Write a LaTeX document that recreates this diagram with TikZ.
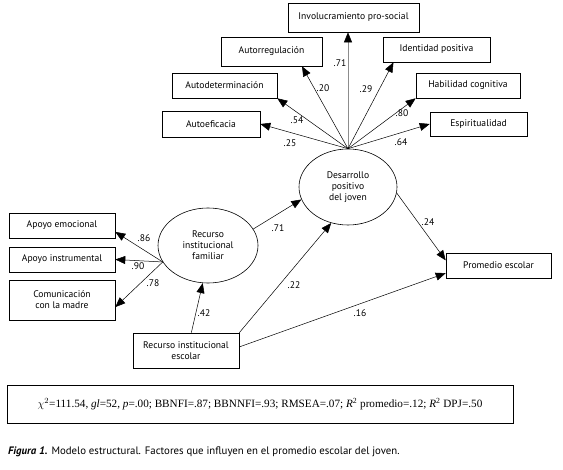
\documentclass[tikz,border=0pt]{standalone}
\usepackage{fontspec}
\setsansfont{PT Sans}
\newfontfamily\statfont{Liberation Serif}
\usetikzlibrary{arrows.meta,calc,shapes.geometric}
\tikzset{
  every node/.style={font=\sffamily\fontsize{9.6}{11}\selectfont},
  box/.style={draw, line width=0.6pt, align=center, inner sep=1pt},
  latent/.style={draw, ellipse, line width=0.6pt, align=center, inner sep=0pt},
  path/.style={line width=0.5pt, -{Triangle[length=10pt,width=8pt,color=black]}},
  lab/.style={inner sep=0pt},
}
\begin{document}
\begin{tikzpicture}[x=1pt,y=-1pt]
\useasboundingbox (0,0) rectangle (563,470);
% indicator boxes (top)
\node[box, minimum width=131, minimum height=29] (inv) at (353.5,17.5) {Involucramiento pro-social};
\node[box, minimum width=101, minimum height=29] (autorreg) at (271.5,51.5) {Autorregulación};
\node[box, minimum width=107, minimum height=25] (ident) at (436.5,49.5) {Identidad positiva};
\node[box, minimum width=105, minimum height=25] (autodet) at (224.5,85.5) {Autodeterminación};
\node[box, minimum width=104, minimum height=25] (habil) at (468,85.5) {Habilidad cognitiva};
\node[box, minimum width=98, minimum height=26] (autoef) at (211,124) {Autoeficacia};
\node[box, minimum width=97, minimum height=24] (espir) at (478.5,124) {Espiritualidad};
% left boxes
\node[box, minimum width=106, minimum height=25] (apoyoemo) at (62,225.5) {Apoyo emocional};
\node[box, minimum width=106, minimum height=25] (apoyoinst) at (62,259.5) {Apoyo instrumental};
\node[box, minimum width=106, minimum height=40] (comun) at (62,300) {Comunicación\\con la madre};
\node[box, minimum width=106, minimum height=35] (rie) at (186,350.5) {Recurso institucional\\escolar};
\node[box, minimum width=105, minimum height=25] (prom) at (498.5,265.5) {Promedio escolar};
% latent variables
\node[latent, minimum width=98, minimum height=76] (dpj) at (348,187) {Desarrollo\\positivo\\del joven};
\node[latent, minimum width=100, minimum height=75] (rif) at (208,245.5) {Recurso\\institucional\\familiar};
% DPJ indicators
\draw[path] (dpj.north) -- (autoef.east);
\draw[path] (dpj.north) -- (autodet.south east);
\draw[path] (dpj.north) -- ($(autorreg.south west)!0.8!(autorreg.south east)$);
\draw[path, draw=black!45] (dpj.north) -- (dpj.north |- inv.south);
\draw[path] (dpj.north) -- ($(ident.south west)!0.1!(ident.south east)$);
\draw[path] (dpj.north) -- (habil.south west);
\draw[path] (dpj.north) -- (espir.west);
\node[lab] (l25) at (290,143) {.25};
\node[lab] (l54) at (297,120) {.54};
\node[lab] (l20) at (323,88) {.20};
\node[lab] (l71a) at (340,63) {.71};
\node[lab] (l29) at (366,89) {.29};
\node[lab] (l80) at (402,113) {.80};
\node[lab] (l64) at (401,142) {.64};
% RIF indicators
\draw[path] (rif.200) -- ($(apoyoemo.east)!0.5!(apoyoemo.south east)$);
\draw[path] (rif.200) -- (apoyoinst.east);
\draw[path] (rif.200) -- ($(comun.east)!0.35!(comun.south east)$);
\node[lab] (l86) at (144,238) {.86};
\node[lab] (l90) at (138,266) {.90};
\node[lab] (l78) at (153,283) {.78};
% structural paths
\draw[path] ($(rie.north west)!0.55!(rie.north east)$) -- (rif.262);
\draw[path] (rif.20) -- (dpj.195);
\draw[path] (rie.north east) -- (dpj.245);
\draw[path] ($(rie.east)!0.2!(rie.north east)$) -- ($(prom.west)!0.6!(prom.south west)$);
\draw[path] (dpj.-7) -- ($(prom.west)!0.4!(prom.north west)$);
\node[lab] (l42) at (204,313) {.42};
\node[lab] (l71b) at (278,228) {.71};
\node[lab] (l22) at (294,285) {.22};
\node[lab] (l16) at (360,313) {.16};
\node[lab] (l24) at (428,222) {.24};
% fit statistics
\node[box, minimum width=506, minimum height=38, font=\statfont\fontsize{11.2}{13}\selectfont] (stats) at (260,404)
  {$\chi^{2}$=111.54, \textit{gl}=52, \textit{p}=.00; BBNFI=.87; BBNNFI=.93; RMSEA=.07; \textit{R}\textsuperscript{2} promedio=.12; \textit{R}\textsuperscript{2} DPJ=.50};
% caption
\node[anchor=west, inner sep=0pt, font=\sffamily\fontsize{10.8}{12}\selectfont] (cap) at (8,452)
  {\textbf{\textit{Figura 1.}} Modelo estructural. Factores que influyen en el promedio escolar del joven.};
\end{tikzpicture}
\end{document}
